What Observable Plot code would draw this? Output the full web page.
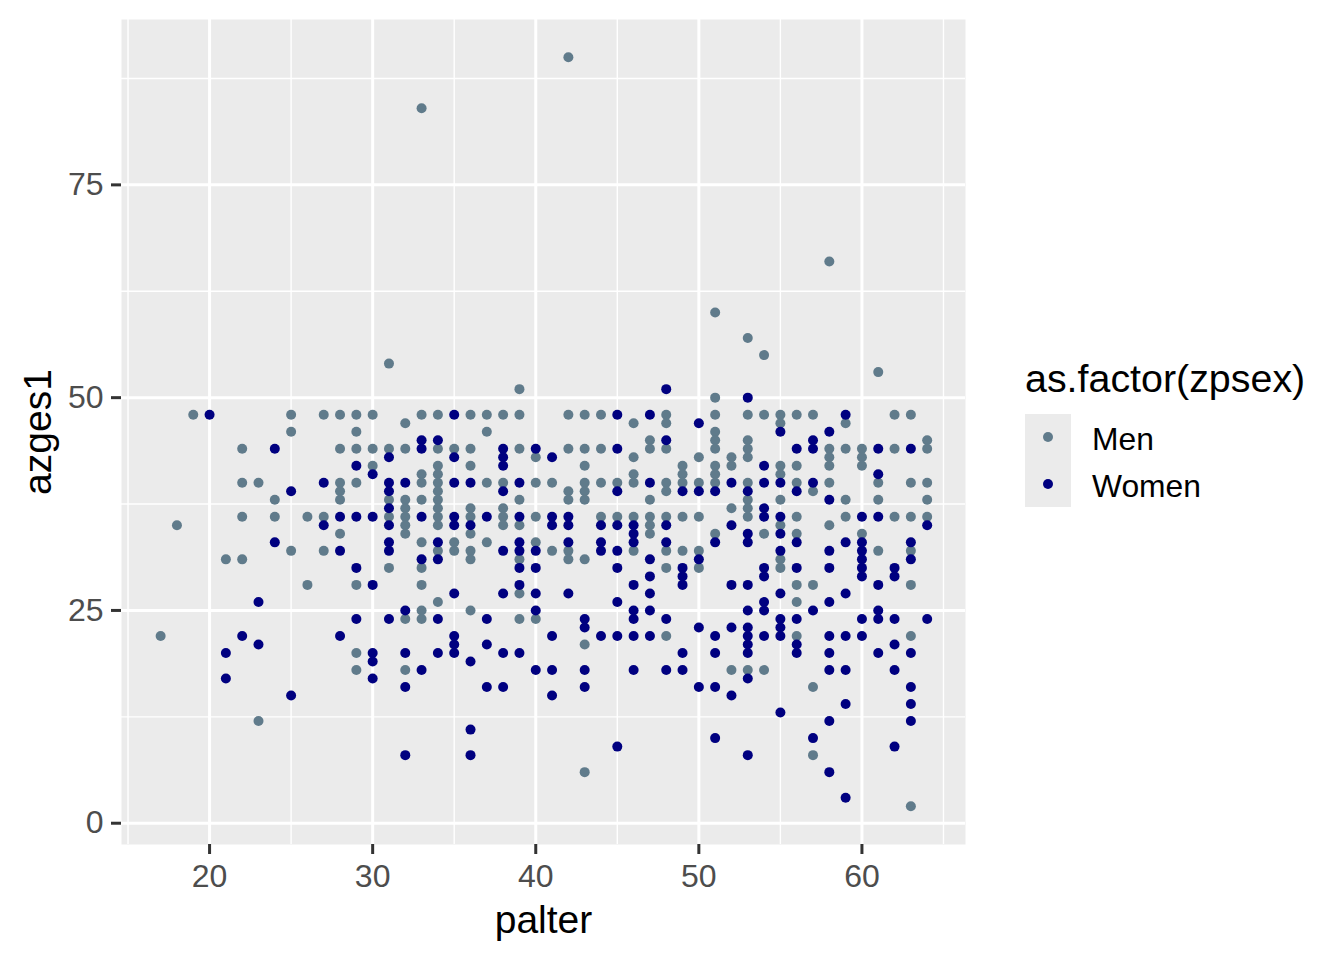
<!DOCTYPE html>
<html>
<head>
<meta charset="utf-8">
<script src="https://cdn.jsdelivr.net/npm/d3@7"></script>
<script src="https://cdn.jsdelivr.net/npm/@observablehq/plot@0.6"></script>
<style>
html,body{margin:0;padding:0;background:#fff;}
#wrap{position:relative;width:1344px;height:960px;font-family:"Liberation Sans",Arial,sans-serif;overflow:hidden;}
#wrap svg{display:block;}
#legend{position:absolute;left:1025px;top:355px;color:#000;}
#legend .title{position:absolute;left:0;top:0;font-size:39.4px;line-height:46px;white-space:nowrap;}
#legend .key{position:absolute;left:0;width:46px;height:46.5px;background:#EBEBEB;}
#legend .key i{position:absolute;left:18px;top:18px;width:10px;height:10px;border-radius:50%;}
#legend .lab{position:absolute;left:67px;font-size:31.8px;line-height:46px;white-space:nowrap;}
</style>
</head>
<body>
<div id="wrap"></div>
<script>
const xMajor = [20, 30, 40, 50, 60];
const xMinor = [15, 25, 35, 45, 55, 65];
const yMajor = [0, 25, 50, 75];
const yMinor = [12.5, 37.5, 62.5, 87.5];
const seriesNames = ["Men", "Women"];
const seriesColors = ["#607B8B", "#000080"];
const xDomain = [14.6, 66.35];
const yDomain = [-2.5, 94.43];

// each row: [azges1, [palter values]]
const menRows = [
  [90,[42]],[84,[33]],[66,[58]],[60,[51]],[57,[53]],[55,[54]],[54,[31]],[53,[61]],[51,[39]],[50,[51]],
  [48,[19,25,27,28,29,30,33,34,36,37,38,39,42,43,44,48,51,53,54,55,56,57,62,63]],
  [47,[32,46,48,55,59]],
  [46,[25,29,37,51]],
  [45,[47,51,53,64]],
  [44,[22,28,29,30,31,32,34,35,36,39,42,43,44,47,48,51,53,58,59,60,62,64]],
  [43,[40,46,50,52,53,58,60]],
  [42,[30,34,36,43,49,51,52,55,56,58,60]],
  [41,[33,34,46,49,51,55]],
  [40,[22,23,28,29,33,34,37,38,40,41,43,44,45,46,48,49,50,51,53,56,58,61,63,64]],
  [39,[28,34,42,43,48,57]],
  [38,[24,28,31,32,33,34,39,42,43,47,53,55,59,61,64]],
  [37,[32,34,36,38,52,53]],
  [36,[22,24,26,27,31,32,34,36,38,40,44,45,46,47,48,49,50,53,56,59,62,63,64]],
  [35,[18,32,34,38,39,47,55,58]],
  [34,[28,32,36,47,51,54,56,60]],
  [33,[33,35,37,40]],
  [32,[25,27,34,35,36,41,42,46,48,49,50,61,63]],
  [31,[21,22,36,39,42,43,55]],
  [30,[31,33,48,50,55]],
  [28,[26,29,33,56,57,63]],
  [27,[39]],
  [26,[34,56]],
  [25,[33,36]],
  [24,[32,33,39,40]],
  [22,[17,48,56,63]],
  [21,[43]],
  [20,[29]],
  [18,[29,32,52,53,54]],
  [16,[57]],
  [12,[23]],
  [8,[57]],
  [6,[43]],
  [2,[63]]
];
const womenRows = [
  [51,[48]],[50,[53]],
  [48,[20,35,45,47,59]],
  [47,[50]],
  [46,[55,58]],
  [45,[33,34,48,57]],
  [44,[24,33,38,40,45,56,57,61,63]],
  [43,[31,35,38,41]],
  [42,[29,38,54]],
  [41,[30,61]],
  [40,[27,31,32,35,36,39,47,52,54,55,57]],
  [39,[25,31,38,45,49,50,51,53,56]],
  [38,[58]],
  [37,[31,54]],
  [36,[28,29,30,33,35,37,39,41,42,54,55,60,61]],
  [35,[27,31,35,36,41,42,44,45,46,48,52,64]],
  [34,[46,53,55]],
  [33,[24,31,34,39,42,44,46,48,51,53,56,59,60,63]],
  [32,[28,31,38,39,40,44,45,55,58,60]],
  [31,[33,34,47,50,60,63]],
  [30,[29,39,40,45,49,54,56,58,60,62]],
  [29,[47,49,54,60,62]],
  [28,[30,39,46,49,52,53,61]],
  [27,[35,38,40,42,47,55,59]],
  [26,[23,45,54,58]],
  [25,[32,40,46,47,53,54,57,61]],
  [24,[29,31,34,37,43,46,48,55,56,60,61,62,64]],
  [23,[43,50,52,53,55]],
  [22,[22,28,35,41,44,45,46,47,51,53,54,55,58,59,60]],
  [21,[23,35,37,53,56,62]],
  [20,[21,30,32,34,35,38,39,49,51,53,56,58,61,63]],
  [19,[30,36]],
  [18,[33,40,41,43,46,48,49,58,59,62]],
  [17,[21,30,53]],
  [16,[32,37,38,43,50,51,63]],
  [15,[25,41,52]],
  [14,[59,63]],
  [13,[55]],
  [12,[58,63]],
  [11,[36]],
  [10,[51,57]],
  [9,[45,62]],
  [8,[32,36,53]],
  [6,[58]],
  [3,[59]]
];

const flatten = (rows, sex) => rows.flatMap(([y, xs]) => xs.map(x => ({palter: x, azges1: y, sex})));
const points = [...flatten(menRows, "Men"), ...flatten(womenRows, "Women")];

const chart = Plot.plot({
  width: 1344,
  height: 960,
  marginLeft: 121,
  marginRight: 379,
  marginTop: 19,
  marginBottom: 116,
  style: {fontFamily: '"Liberation Sans",Arial,sans-serif', background: "#fff"},
  x: {domain: xDomain, label: null},
  y: {domain: yDomain, label: null},
  color: {domain: seriesNames, range: seriesColors},
  marks: [
    Plot.frame({fill: "#EBEBEB", stroke: null}),
    Plot.ruleX(xMinor, {stroke: "#fff", strokeWidth: 1.4}),
    Plot.ruleY(yMinor, {stroke: "#fff", strokeWidth: 1.4}),
    Plot.ruleX(xMajor, {stroke: "#fff", strokeWidth: 3}),
    Plot.ruleY(yMajor, {stroke: "#fff", strokeWidth: 3}),
    Plot.dot(points, {x: "palter", y: "azges1", fill: "sex", r: 5, stroke: null}),
    Plot.axisX({ticks: xMajor, tickSize: 10, tickPadding: 10, fontSize: 32, color: "#4D4D4D", stroke: "#333", strokeWidth: 3, label: null, tickFormat: d => d}),
    Plot.axisY({ticks: yMajor, tickSize: 10, tickPadding: 8, fontSize: 32, color: "#4D4D4D", stroke: "#333", strokeWidth: 3, label: null, tickFormat: d => d}),
    Plot.text(["palter"], {frameAnchor: "bottom", dy: 88, fontSize: 39, fill: "#000"}),
    Plot.text(["azges1"], {frameAnchor: "left", textAnchor: "middle", rotate: -90, dx: -83, fontSize: 39, fill: "#000"})
  ]
});
const wrap = document.getElementById("wrap");
wrap.appendChild(chart);

const legend = document.createElement("div");
legend.id = "legend";
legend.innerHTML = `<div class="title">as.factor(zpsex)</div>` + seriesNames.map((n, i) =>
  `<div class="key" style="top:${59 + i * 46.5}px"><i style="background:${seriesColors[i]}"></i></div>` +
  `<div class="lab" style="top:${61 + i * 47}px">${n}</div>`).join("");
wrap.appendChild(legend);
</script>
</body>
</html>
